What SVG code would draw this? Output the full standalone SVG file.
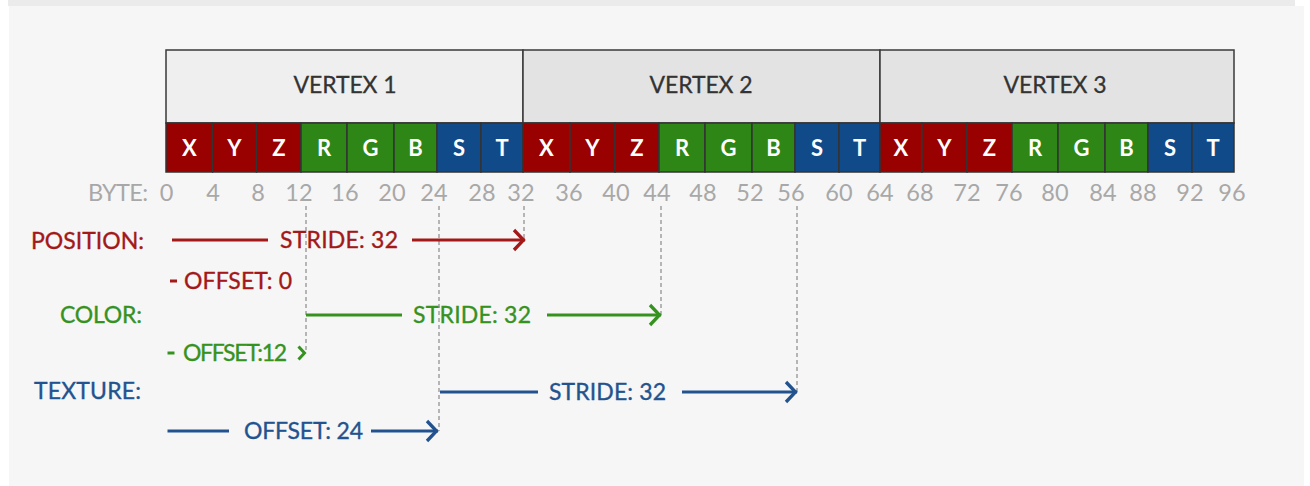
<svg xmlns="http://www.w3.org/2000/svg" width="1310" height="486" viewBox="0 0 1310 486">
<style>
text{font-family:Lato,"Open Sans","Liberation Sans",sans-serif}
.hdr{font-size:23px;fill:#333;stroke:#333;stroke-width:0.3;text-anchor:middle}
.hbox{stroke:#3a3a3a;stroke-width:1.5}
.cell{stroke:#333;stroke-width:1.5}
.r{fill:#990000}.g{fill:#2e8616}.b{fill:#114a88}
.ct{font-size:22px;font-weight:bold;fill:#fff;text-anchor:middle}
.byte{font-size:23.5px;fill:#a8a8a8;text-anchor:middle}
.lab{font-size:23px;text-anchor:end}
.t{font-size:23px}
.cr{fill:#a31818;stroke:#a31818;stroke-width:0.35}
.cg{fill:#36921f;stroke:#36921f;stroke-width:0.35}
.cb{fill:#22538f;stroke:#22538f;stroke-width:0.35}
.lr{stroke:#a31818;stroke-width:3;fill:none}
.lg{stroke:#36921f;stroke-width:3;fill:none}
.lb{stroke:#22538f;stroke-width:3;fill:none}
.dash{stroke:#8a8a8a;stroke-width:1.2;stroke-dasharray:4 3;fill:none}
</style>
<defs>
<marker id="ar" markerUnits="userSpaceOnUse" markerWidth="16" markerHeight="26" viewBox="-14 -13 16 26" refX="0" refY="0" orient="auto"><path d="M-11,-10 L-1.5,0 L-11,10" fill="none" stroke="#a31818" stroke-width="3.3"/></marker>
<marker id="ag" markerUnits="userSpaceOnUse" markerWidth="16" markerHeight="26" viewBox="-14 -13 16 26" refX="0" refY="0" orient="auto"><path d="M-11,-10 L-1.5,0 L-11,10" fill="none" stroke="#36921f" stroke-width="3.3"/></marker>
<marker id="ab" markerUnits="userSpaceOnUse" markerWidth="16" markerHeight="26" viewBox="-14 -13 16 26" refX="0" refY="0" orient="auto"><path d="M-11,-10 L-1.5,0 L-11,10" fill="none" stroke="#22538f" stroke-width="3.3"/></marker>
</defs>
<rect x="0" y="0" width="1310" height="486" fill="#ffffff"/>
<rect x="8" y="0" width="1287" height="6" fill="#ebebeb"/>
<rect x="9" y="6" width="1295" height="480" fill="#f6f6f6"/>

<g id="vertex1">
<rect class="hbox" x="166" y="50" width="357" height="73" fill="#efefef"/>
<text class="hdr" x="345" y="93" textLength="103">VERTEX 1</text>
<rect class="cell r" x="166" y="123" width="46.5" height="49"/>
<rect class="cell r" x="212.5" y="123" width="44" height="49"/>
<rect class="cell r" x="256.5" y="123" width="44.5" height="49"/>
<rect class="cell g" x="301" y="123" width="46" height="49"/>
<rect class="cell g" x="347" y="123" width="47" height="49"/>
<rect class="cell g" x="394" y="123" width="43" height="49"/>
<rect class="cell b" x="437" y="123" width="44" height="49"/>
<rect class="cell b" x="481" y="123" width="42" height="49"/>
<text class="ct" x="189.5" y="156">X</text>
<text class="ct" x="234.5" y="156">Y</text>
<text class="ct" x="279" y="156">Z</text>
<text class="ct" x="324" y="156">R</text>
<text class="ct" x="370.5" y="156">G</text>
<text class="ct" x="415.5" y="156">B</text>
<text class="ct" x="459" y="156">S</text>
<text class="ct" x="502" y="156">T</text>
</g>

<g id="vertex2">
<rect class="hbox" x="523" y="50" width="357" height="73" fill="#e3e3e3"/>
<text class="hdr" x="701" y="93" textLength="103">VERTEX 2</text>
<rect class="cell r" x="523" y="123" width="47" height="49"/>
<rect class="cell r" x="570" y="123" width="45" height="49"/>
<rect class="cell r" x="615" y="123" width="44" height="49"/>
<rect class="cell g" x="659" y="123" width="46" height="49"/>
<rect class="cell g" x="705" y="123" width="47" height="49"/>
<rect class="cell g" x="752" y="123" width="43" height="49"/>
<rect class="cell b" x="795" y="123" width="44" height="49"/>
<rect class="cell b" x="839" y="123" width="41" height="49"/>
<text class="ct" x="546.5" y="156">X</text>
<text class="ct" x="592.5" y="156">Y</text>
<text class="ct" x="637" y="156">Z</text>
<text class="ct" x="682" y="156">R</text>
<text class="ct" x="728.5" y="156">G</text>
<text class="ct" x="773.5" y="156">B</text>
<text class="ct" x="817" y="156">S</text>
<text class="ct" x="859.5" y="156">T</text>
</g>

<g id="vertex3">
<rect class="hbox" x="880" y="50" width="354" height="73" fill="#e3e3e3"/>
<text class="hdr" x="1055" y="93" textLength="103">VERTEX 3</text>
<rect class="cell r" x="880" y="123" width="42" height="49"/>
<rect class="cell r" x="922" y="123" width="45" height="49"/>
<rect class="cell r" x="967" y="123" width="45" height="49"/>
<rect class="cell g" x="1012" y="123" width="46" height="49"/>
<rect class="cell g" x="1058" y="123" width="47" height="49"/>
<rect class="cell g" x="1105" y="123" width="43" height="49"/>
<rect class="cell b" x="1148" y="123" width="44" height="49"/>
<rect class="cell b" x="1192" y="123" width="42" height="49"/>
<text class="ct" x="901" y="156">X</text>
<text class="ct" x="944.5" y="156">Y</text>
<text class="ct" x="989.5" y="156">Z</text>
<text class="ct" x="1035" y="156">R</text>
<text class="ct" x="1081.5" y="156">G</text>
<text class="ct" x="1126.5" y="156">B</text>
<text class="ct" x="1170" y="156">S</text>
<text class="ct" x="1213" y="156">T</text>
</g>

<g id="bytes">
<text class="byte" x="148" y="201" style="text-anchor:end" textLength="60">BYTE:</text>
<text class="byte" x="166.5" y="201">0</text>
<text class="byte" x="213" y="201">4</text>
<text class="byte" x="258" y="201">8</text>
<text class="byte" x="299" y="201">12</text>
<text class="byte" x="345" y="201">16</text>
<text class="byte" x="392" y="201">20</text>
<text class="byte" x="434" y="201">24</text>
<text class="byte" x="482" y="201">28</text>
<text class="byte" x="521" y="201">32</text>
<text class="byte" x="569" y="201">36</text>
<text class="byte" x="616" y="201">40</text>
<text class="byte" x="657" y="201">44</text>
<text class="byte" x="703" y="201">48</text>
<text class="byte" x="750" y="201">52</text>
<text class="byte" x="791" y="201">56</text>
<text class="byte" x="839" y="201">60</text>
<text class="byte" x="880" y="201">64</text>
<text class="byte" x="920" y="201">68</text>
<text class="byte" x="967" y="201">72</text>
<text class="byte" x="1009" y="201">76</text>
<text class="byte" x="1055" y="201">80</text>
<text class="byte" x="1103" y="201">84</text>
<text class="byte" x="1143" y="201">88</text>
<text class="byte" x="1190" y="201">92</text>
<text class="byte" x="1232" y="201">96</text>
</g>

<g id="position">
<text class="lab cr" x="144" y="249" textLength="113">POSITION:</text>
<text class="t cr" x="280" y="248" textLength="118">STRIDE: 32</text>
<text class="t cr" x="184" y="289" textLength="108">OFFSET: 0</text>
</g>
<g id="color">
<text class="lab cg" x="142" y="323" textLength="82">COLOR:</text>
<text class="t cg" x="413" y="323" textLength="118">STRIDE: 32</text>
<text class="t cg" x="183" y="361" textLength="104">OFFSET:12</text>
</g>
<g id="texture">
<text class="lab cb" x="141" y="399" textLength="107">TEXTURE:</text>
<text class="t cb" x="549" y="400" textLength="117">STRIDE: 32</text>
<text class="t cb" x="244" y="439" textLength="119">OFFSET: 24</text>
</g>

<g id="connectors">
<path class="dash" d="M306,206 V353"/>
<path class="dash" d="M439,206 V431"/>
<path class="dash" d="M524,206 V240"/>
<path class="dash" d="M661,206 V315"/>
<path class="dash" d="M797,206 V392"/>
<path class="lr" d="M172,240 H268"/>
<path class="lr" d="M412,240 H525" marker-end="url(#ar)"/>
<path class="lr" d="M170,281 H177" stroke-width="3.6"/>
<path class="lg" d="M306,315 H402"/>
<path class="lg" d="M547,315 H661" marker-end="url(#ag)"/>
<path class="lg" d="M167.5,353 H174.5" stroke-width="4"/>
<path class="lg" d="M298.5,346.5 L304.5,353 L298.5,359.5" stroke-width="4.5"/>
<path class="lb" d="M440,392 H538"/>
<path class="lb" d="M682,392 H797" marker-end="url(#ab)"/>
<path class="lb" d="M167.5,431 H229"/>
<path class="lb" d="M371,431 H438" marker-end="url(#ab)"/>
</g>
</svg>
